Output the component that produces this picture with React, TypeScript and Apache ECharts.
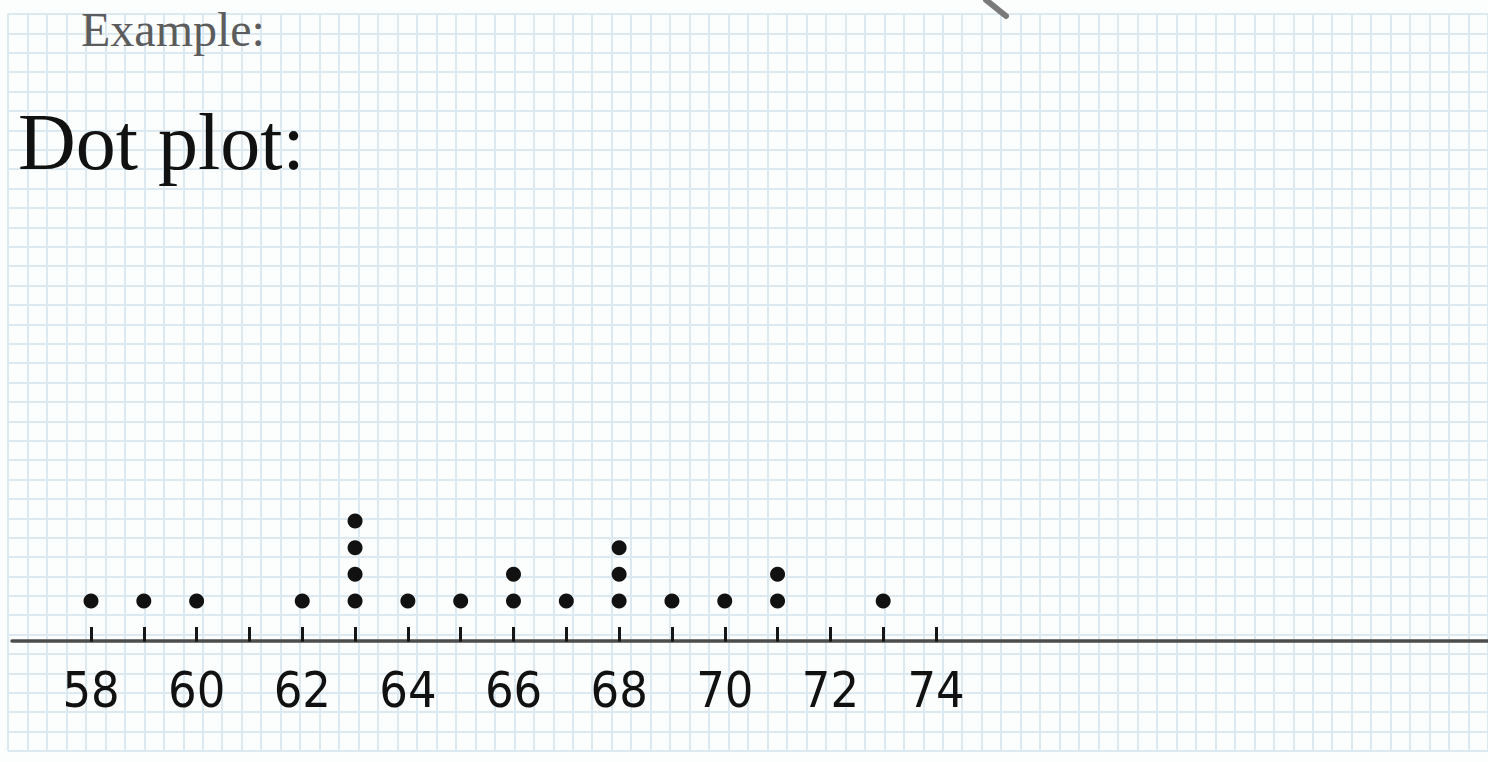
import React, { useEffect, useRef } from "react";
import * as echarts from "echarts";

// Data
const heights: number[] = [58, 59, 60, 61, 62, 63, 64, 65, 66, 67, 68, 69, 70, 71, 72, 73, 74];
const dotCounts: number[] = [1, 1, 1, 0, 1, 4, 1, 1, 2, 1, 3, 1, 1, 2, 0, 1, 0];
const tickLabels: string[] = ["58", "60", "62", "64", "66", "68", "70", "72", "74"];
const titleSmall = "Example:";
const titleBig = "Dot plot:";

export default function App() {
  const ref = useRef<HTMLDivElement>(null);

  useEffect(() => {
    if (!ref.current) return;
    const chart = echarts.init(ref.current, undefined, { renderer: "svg" });

    const dots: number[][] = [];
    heights.forEach((h, i) => {
      for (let k = 1; k <= dotCounts[i]; k++) dots.push([h, k]);
    });

    // background paper grid: one category per ruled line
    const W = 1488;
    const cols = 77;
    const rows = 39;
    const colCats = Array.from({ length: cols }, (_, i) => String(i));
    const rowCats = Array.from({ length: rows }, (_, i) => String(i));

    const option: any = {
      animation: false,
      backgroundColor: "#fcfefe",
      title: [
        {
          text: titleSmall,
          left: 81,
          top: 5,
          padding: 0,
          textStyle: {
            fontFamily: "'Liberation Serif', 'DejaVu Serif', serif",
            fontSize: 48,
            fontWeight: "normal",
            color: "#5c5c5c",
          },
        },
        {
          text: titleBig,
          left: 18,
          top: 102,
          padding: 0,
          textStyle: {
            fontFamily: "'Liberation Serif', 'DejaVu Serif', serif",
            fontSize: 80,
            fontWeight: "normal",
            color: "#111111",
          },
        },
      ],
      grid: [
        { left: 8, top: 14, width: 1480, height: 737 },
        { left: 91, right: W - 936, bottom: 121, top: 361 },
        { left: 12, right: 0, top: 640, bottom: 121 },
      ],
      xAxis: [
        {
          gridIndex: 0,
          type: "category",
          data: colCats,
          boundaryGap: false,
          axisLine: { show: false },
          axisTick: { show: false },
          axisLabel: { show: false },
          splitLine: { show: true, interval: 0, lineStyle: { color: "#dce9f0", width: 2 } },
          z: 0,
        },
        {
          gridIndex: 1,
          type: "value",
          position: "bottom",
          min: 58,
          max: 74,
          interval: 1,
          axisLine: { show: false },
          axisTick: {
            show: true,
            inside: false,
            length: 14,
            lineStyle: { color: "#151515", width: 3 },
          },
          axisLabel: {
            show: true,
            margin: 24,
            fontFamily: "'Liberation Sans Narrow', 'DejaVu Sans Condensed', sans-serif",
            fontSize: 50,
            color: "#111111",
            formatter: (v: number) => (tickLabels.includes(String(v)) ? String(v) : ""),
          },
          splitLine: { show: false },
          z: 5,
        },
        {
          gridIndex: 1,
          type: "value",
          position: "bottom",
          min: 58,
          max: 74,
          interval: 1,
          axisLine: { show: false },
          axisTick: {
            show: true,
            inside: true,
            length: 14,
            lineStyle: { color: "#151515", width: 3 },
          },
          axisLabel: { show: false },
          splitLine: { show: false },
          z: 5,
        },
        {
          gridIndex: 2,
          type: "value",
          position: "bottom",
          min: 0,
          max: 1,
          axisLine: { show: true, lineStyle: { color: "#4d4d4d", width: 3.5 } },
          axisTick: { show: false },
          axisLabel: { show: false },
          splitLine: { show: false },
          z: 2,
        },
      ],
      yAxis: [
        {
          gridIndex: 0,
          type: "category",
          data: rowCats,
          boundaryGap: false,
          axisLine: { show: false },
          axisTick: { show: false },
          axisLabel: { show: false },
          splitLine: { show: true, interval: 0, lineStyle: { color: "#dce9f0", width: 2 } },
          z: 0,
        },
        {
          gridIndex: 1,
          type: "value",
          min: -0.5,
          max: 10,
          show: false,
          splitLine: { show: false },
        },
        {
          gridIndex: 2,
          type: "value",
          min: 0,
          max: 1,
          show: false,
          splitLine: { show: false },
        },
      ],
      graphic: [
        {
          type: "line",
          shape: { x1: 986, y1: 0, x2: 1006, y2: 16 },
          style: { stroke: "#7a7a7a", lineWidth: 6, lineCap: "round" },
          z: 10,
        },
      ],
      series: [
        {
          type: "scatter",
          xAxisIndex: 1,
          yAxisIndex: 1,
          data: dots,
          symbol: "circle",
          symbolSize: 15,
          itemStyle: { color: "#111111", opacity: 1 },
          z: 6,
        },
      ],
    };

    chart.setOption(option);
    return () => chart.dispose();
  }, []);

  return (
    <div
      ref={ref}
      style={{ position: "fixed", left: 0, top: 0, width: 1488, height: 762 }}
    />
  );
}
